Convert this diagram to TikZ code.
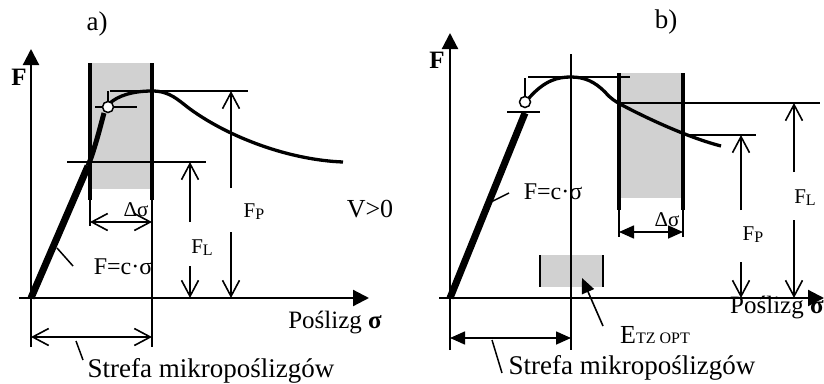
\documentclass[tikz,border=0pt]{standalone}
\usepackage{fontspec}
\setmainfont{Liberation Serif}
\usetikzlibrary{arrows.meta}
\newcommand{\subtxt}[2]{#1\raisebox{-2pt}{\fontsize{16}{16}\selectfont #2}}
\begin{document}
\begin{tikzpicture}[x=1pt,y=-1pt,
  txt/.style={inner sep=0pt,font=\fontsize{24}{28}\selectfont},
  bigtxt/.style={inner sep=0pt,font=\fontsize{27}{30}\selectfont},
  smalltxt/.style={inner sep=0pt,font=\fontsize{21}{24}\selectfont},
  axisline/.style={line width=2.2pt,-{Triangle[length=16pt,width=16pt]}},
  guide/.style={line width=1.5pt},
  dimline/.style={line width=1.6pt},
  openarr/.style={line width=1.6pt,-{Straight Barb[length=16pt,width=17pt]}},
  openboth/.style={line width=1.6pt,{Straight Barb[length=16pt,width=17pt]}-{Straight Barb[length=16pt,width=17pt]}},
  fillboth/.style={line width=1.6pt,{Triangle[length=15pt,width=13pt]}-{Triangle[length=15pt,width=13pt]}},
  fillarr/.style={line width=1.6pt,-{Triangle[length=15pt,width=13pt]}},
  band/.style={fill=black!18,draw=none},
  bandline/.style={line width=3.4pt},
  curve/.style={line width=3.3pt},
  elastic/.style={line width=7pt},
  marker/.style={draw,fill=white,line width=1.5pt}
]
\useasboundingbox (0,0) rectangle (824,383);

% ================= panel a =================
\fill[band] (90,63) rectangle (152,189);
\draw[bandline] (90,63) -- (90,200);
\draw[bandline] (152,63) -- (152,200);
\draw[dimline] (90,200) -- (90,226);
\draw[dimline] (152,200) -- (152,347);

\coordinate (aO) at (31,298);
\coordinate (aFtop) at (31,49);
\coordinate (aFbot) at (31,347);
\coordinate (aSl) at (19,298);
\coordinate (aSr) at (369,298);
\draw[line width=2.2pt] (aFbot) -- (aO);
\draw[axisline] (aO) -- (aFtop);
\draw[axisline] (aSl) -- (aSr);

% guide lines
\draw[guide] (110,91) -- (248,91);
\draw[guide] (67,162) -- (206,162);

% elastic part and curve
\draw[elastic] (aO) -- (88,166);
\draw[line width=5pt] (88,166) .. controls (95,148) and (100,128) .. (104,113);
\draw[curve] (110,103) .. controls (118,96) and (132,91) .. (152,91)
  .. controls (170,91) and (178,100) .. (190,109)
  .. controls (230,138) and (290,160) .. (343,162);
\draw[guide] (95,107) -- (137,107);
\draw[guide] (108,91) -- (108,102);
\node[marker,circle,minimum size=11pt,inner sep=0pt] (aC) at (108,107) {};

% F_P and F_L arrows
\coordinate (aP1) at (231,188); \coordinate (aP2) at (231,91);
\coordinate (aP3) at (231,232); \coordinate (aP4) at (231,298);
\draw[openarr] (aP1) -- (aP2);
\draw[openarr] (aP3) -- (aP4);
\coordinate (aL1) at (190,222); \coordinate (aL2) at (190,162);
\coordinate (aL3) at (190,266); \coordinate (aL4) at (190,298);
\draw[openarr] (aL1) -- (aL2);
\draw[openarr] (aL3) -- (aL4);

% delta sigma
\coordinate (aD1) at (90,222); \coordinate (aD2) at (152,222);
\draw[openboth] (aD1) -- (aD2);
% strefa
\coordinate (aS1) at (31,337); \coordinate (aS2) at (152,337);
\draw[openboth] (aS1) -- (aS2);
\coordinate (aSp1) at (76,341); \coordinate (aSp2) at (83,360);
\draw[guide] (aSp1) -- (aSp2);
% F=c sigma pointer
\coordinate (aCp1) at (57,248); \coordinate (aCp2) at (73,266);
\draw[guide] (aCp1) -- (aCp2);

\node[bigtxt] (alab) at (97,24) {a)};
\node[txt,font=\fontsize{25}{28}\selectfont\bfseries] (aF) at (19,77) {F};
\node[smalltxt] (aDs) at (136,210) {Δσ};
\node[smalltxt] (aFP) at (254,212) {\subtxt{F}{P}};
\node[bigtxt,font=\fontsize{26}{30}\selectfont] (aV) at (370,209) {V>0};
\node[smalltxt] (aFL) at (202,248) {\subtxt{F}{L}};
\node[txt] (aEq) at (123,267) {F=c·σ};
\node[txt,font=\fontsize{25}{28}\selectfont] (aPos) at (335,323) {Poślizg \textbf{σ}};
\node[txt,font=\fontsize{27}{30}\selectfont] (aStr) at (211,371) {Strefa mikropoślizgów};

% ================= panel b =================
\fill[band] (619,73) rectangle (683,198);
\draw[line width=3.2pt] (619,73) -- (619,210);
\draw[line width=4.4pt] (683,73) -- (683,210);
\draw[dimline] (619,210) -- (619,237);
\draw[dimline] (683,210) -- (683,237);

\fill[band] (540,255) rectangle (603,287);
\draw[line width=1.8pt] (540,255) -- (540,287);
\draw[line width=1.8pt] (603,255) -- (603,287);

\coordinate (bO) at (450,298);
\coordinate (bFtop) at (450,33);
\coordinate (bFbot) at (450,350);
\coordinate (bSl) at (439,298);
\coordinate (bSr) at (824,298);
\draw[line width=2.2pt] (bFbot) -- (bO);
\draw[axisline] (bO) -- (bFtop);
\draw[axisline] (bSl) -- (bSr);

\draw[line width=1.6pt] (571,54) -- (571,350);
\draw[guide] (528,77) -- (630,77);
\draw[guide] (619,103) -- (820,103);
\draw[guide] (683,135) -- (756,135);

\draw[elastic] (bO) -- (525,113);
\draw[guide] (507,112) -- (540,112);
\draw[guide] (525,78) -- (525,97);
\draw[curve] (529,98) .. controls (545,80) and (558,77) .. (571,77)
  .. controls (585,77) and (595,82) .. (605,92)
  .. controls (611,99) and (615,101) .. (620,104)
  .. controls (650,120) and (690,138) .. (721,146);
\node[marker,circle,minimum size=11pt,inner sep=0pt] (bC) at (525,102) {};

\coordinate (bL1) at (794,172); \coordinate (bL2) at (794,103);
\coordinate (bL3) at (794,220); \coordinate (bL4) at (794,298);
\draw[openarr] (bL1) -- (bL2);
\draw[openarr] (bL3) -- (bL4);
\coordinate (bP1) at (741,210); \coordinate (bP2) at (741,135);
\coordinate (bP3) at (741,262); \coordinate (bP4) at (741,298);
\draw[openarr] (bP1) -- (bP2);
\draw[openarr] (bP3) -- (bP4);

\coordinate (bD1) at (619,232); \coordinate (bD2) at (683,232);
\draw[fillboth] (bD1) -- (bD2);
\coordinate (bS1) at (450,338); \coordinate (bS2) at (571,338);
\draw[fillboth] (bS1) -- (bS2);
\coordinate (bSp1) at (492,340); \coordinate (bSp2) at (502,373);
\draw[guide] (bSp1) -- (bSp2);
\coordinate (bCp1) at (489,203); \coordinate (bCp2) at (509,193);
\draw[guide] (bCp1) -- (bCp2);
\coordinate (bE1) at (603,326); \coordinate (bE2) at (582,278);
\draw[fillarr] (bE1) -- (bE2);

\node[bigtxt] (blab) at (666,22) {b)};
\node[txt,font=\fontsize{25}{28}\selectfont\bfseries] (bF) at (437,60) {F};
\node[txt] (bEq) at (553,192) {F=c·σ};
\node[smalltxt] (bDs) at (667,220) {Δσ};
\node[smalltxt] (bFL) at (805,198) {\subtxt{F}{L}};
\node[smalltxt] (bFP) at (753,235) {\subtxt{F}{P}};
\node[txt,font=\fontsize{26}{30}\selectfont,anchor=west] (bE) at (620,335) {E{\fontsize{16}{16}\selectfont TZ OPT}};
\node[txt,font=\fontsize{25}{28}\selectfont,anchor=west] (bPos) at (730,308) {Poślizg \textbf{σ}};
\node[txt,font=\fontsize{27}{30}\selectfont] (bStr) at (632,368) {Strefa mikropoślizgów};
\end{tikzpicture}
\end{document}
